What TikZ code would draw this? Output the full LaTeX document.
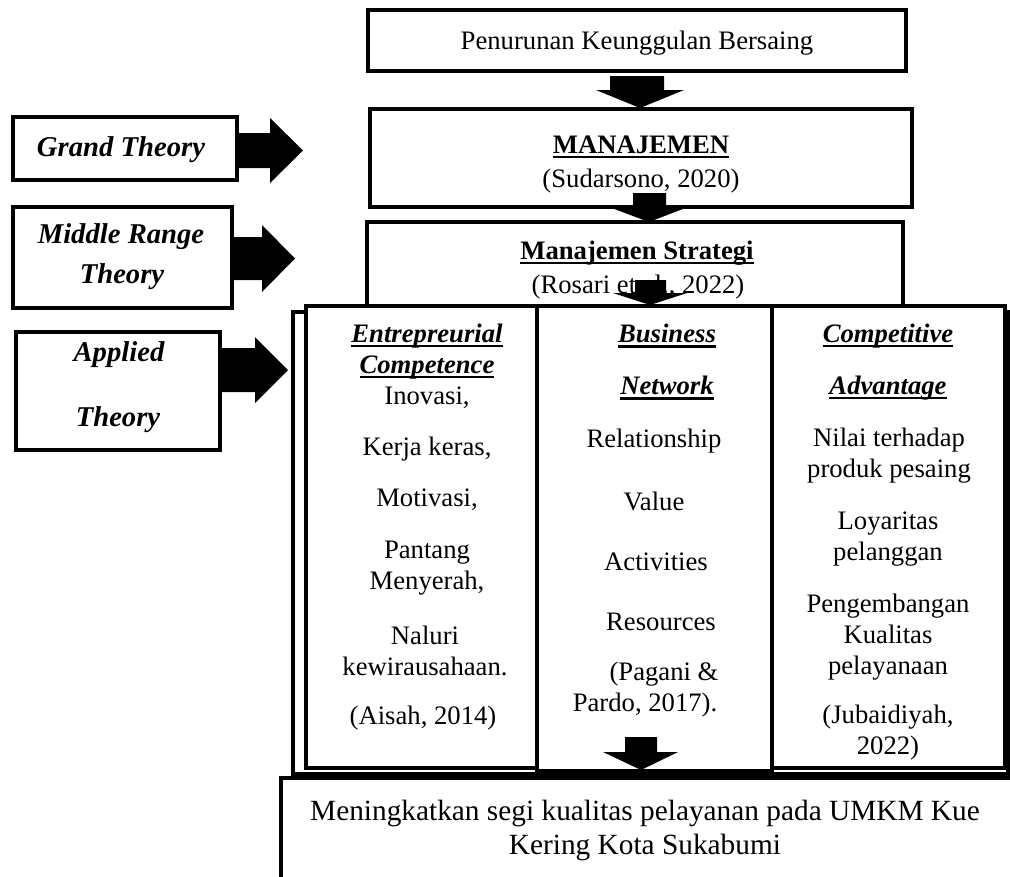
\documentclass[tikz,border=0pt]{standalone}
\usepackage{fontspec}
\setmainfont{Liberation Serif}
\newcommand\myul[1]{\setbox0\hbox{#1}\rlap{\rule[-3.4pt]{\wd0}{1.7pt}}\box0}
\begin{document}
\begin{tikzpicture}[x=0.75pt,y=-0.75pt,
  box/.style={draw, line width=3pt, fill=white, inner sep=0pt},
  wh/.style 2 args={minimum width={#1*0.75pt}, minimum height={#2*0.75pt}},
  txt/.style={font=\fontsize{20}{23.25}\selectfont, inner sep=0pt, align=center},
  bold/.style={font=\fontsize{20}{23.25}\selectfont\bfseries, inner sep=0pt, align=center},
  colhead/.style={font=\fontsize{20}{23.25}\selectfont\bfseries\itshape, inner sep=0pt, align=center},
  head/.style={font=\fontsize{21.5}{25}\selectfont\bfseries\itshape, inner sep=0pt, align=center},
  big/.style={font=\fontsize{22}{25.5}\selectfont, inner sep=0pt, align=center},
  blk/.style={fill=black, draw=none}]
\useasboundingbox (0,0) rectangle (1010,876);
\clip (0,0) rectangle (1010,876);

% theory boxes
\node[box, wh={224}{63}] (grand) at (125,148.5) {};
\node[head] (grandt) at (121,150) {Grand Theory};
\node[box, wh={219}{101}] (middle) at (122.5,257.5) {};
\node[head] (middlet1) at (121,237) {Middle Range};
\node[head] (middlet2) at (122,277) {Theory};
\node[box, wh={204}{118}] (applied) at (118,391) {};
\node[head] (appliedt1) at (119,355) {Applied};
\node[head] (appliedt2) at (118,420) {Theory};

% theory arrows
\fill[blk] (237,133) -- (270,133) -- (270,118) -- (303,150.5) -- (270,183) -- (270,168) -- (237,168) -- cycle;
\fill[blk] (232,237) -- (262,237) -- (262,225) -- (295,258.5) -- (262,292) -- (262,280) -- (232,280) -- cycle;
\fill[blk] (220,348) -- (255,348) -- (255,337) -- (288,370) -- (255,403) -- (255,392) -- (220,392) -- cycle;

% Manajemen Strategi box
\node[box, wh={536}{90}] (strat) at (635,267) {};
\node[bold] (stratt) at (637,253) {\myul{Manajemen Strategi}};
\node[txt] (strats) at (638,287) {(Rosari et al., 2022)};

% columns
\node[box, wh={715}{462}] (back) at (650.5,543) {};
\node[box, wh={231}{462}] (col1) at (421.5,537) {};
\node[box, wh={233}{462}] (col3) at (888.5,537) {};
\node[box, wh={235}{465}] (col2) at (654.5,538.5) {};

% column 1
\node[colhead] (c1h) at (427,352) {\myul{Entrepreurial}\\\myul{Competence}};
\node[txt] (c1a) at (427,398) {Inovasi,};
\node[txt] (c1b) at (427,449) {Kerja keras,};
\node[txt] (c1c) at (427,500) {Motivasi,};
\node[txt] (c1d) at (427,568) {Pantang\\Menyerah,};
\node[txt] (c1e) at (425,651) {Naluri\\kewirausahaan.};
\node[txt] (c1f) at (423,718) {(Aisah, 2014)};

% column 2
\node[colhead] (c2h1) at (667,336) {\myul{Business}};
\node[colhead] (c2h2) at (667,388) {\myul{Network}};
\node[txt] (c2a) at (654,441) {Relationship};
\node[txt] (c2b) at (654,501) {Value};
\node[txt] (c2c) at (656,562) {Activities};
\node[txt] (c2d) at (661,622) {Resources};
\node[txt] (c2e) at (664,674) {(Pagani \&};
\node[txt] (c2f) at (645,705) {Pardo, 2017).};

% column 3
\node[colhead] (c3h1) at (888,336) {\myul{Competitive}};
\node[colhead] (c3h2) at (888,388) {\myul{Advantage}};
\node[txt] (c3a) at (889,456) {Nilai terhadap\\produk pesaing};
\node[txt] (c3b) at (888,539) {Loyaritas\\pelanggan};
\node[txt] (c3c) at (888,637) {Pengembangan\\Kualitas\\pelayanaan};
\node[txt] (c3d) at (888,733) {(Jubaidiyah,\\2022)};

% bottom box
\node[box, wh={760}{140}] (bottom) at (661,848) {};
\node[big] (bottomt) at (645,830) {Meningkatkan segi kualitas pelayanan pada UMKM Kue\\Kering Kota Sukabumi};

% top boxes
\node[box, wh={538}{61}] (top) at (637,40.5) {};
\node[txt] (topt) at (637,43) {Penurunan Keunggulan Bersaing};
\node[box, wh={542}{98}] (manaj) at (641,158) {};
\node[bold] (manajt) at (641,147) {\myul{MANAJEMEN}};
\node[txt] (manajs) at (641,181) {(Sudarsono, 2020)};

% vertical arrows
\fill[blk] (610,76) -- (664,76) -- (664,90) -- (684,90) -- (640,108) -- (596,90) -- (610,90) -- cycle;
\fill[blk] (633,193) -- (666,193) -- (666,207) -- (688,207) -- (649,222) -- (609,207) -- (633,207) -- cycle;
\fill[blk] (635,280) -- (666,280) -- (666,293) -- (687,293) -- (650,305) -- (613,293) -- (635,293) -- cycle;
\fill[blk] (625,737) -- (657,737) -- (657,752) -- (678,752) -- (641,770) -- (603,752) -- (625,752) -- cycle;
\end{tikzpicture}
\end{document}
